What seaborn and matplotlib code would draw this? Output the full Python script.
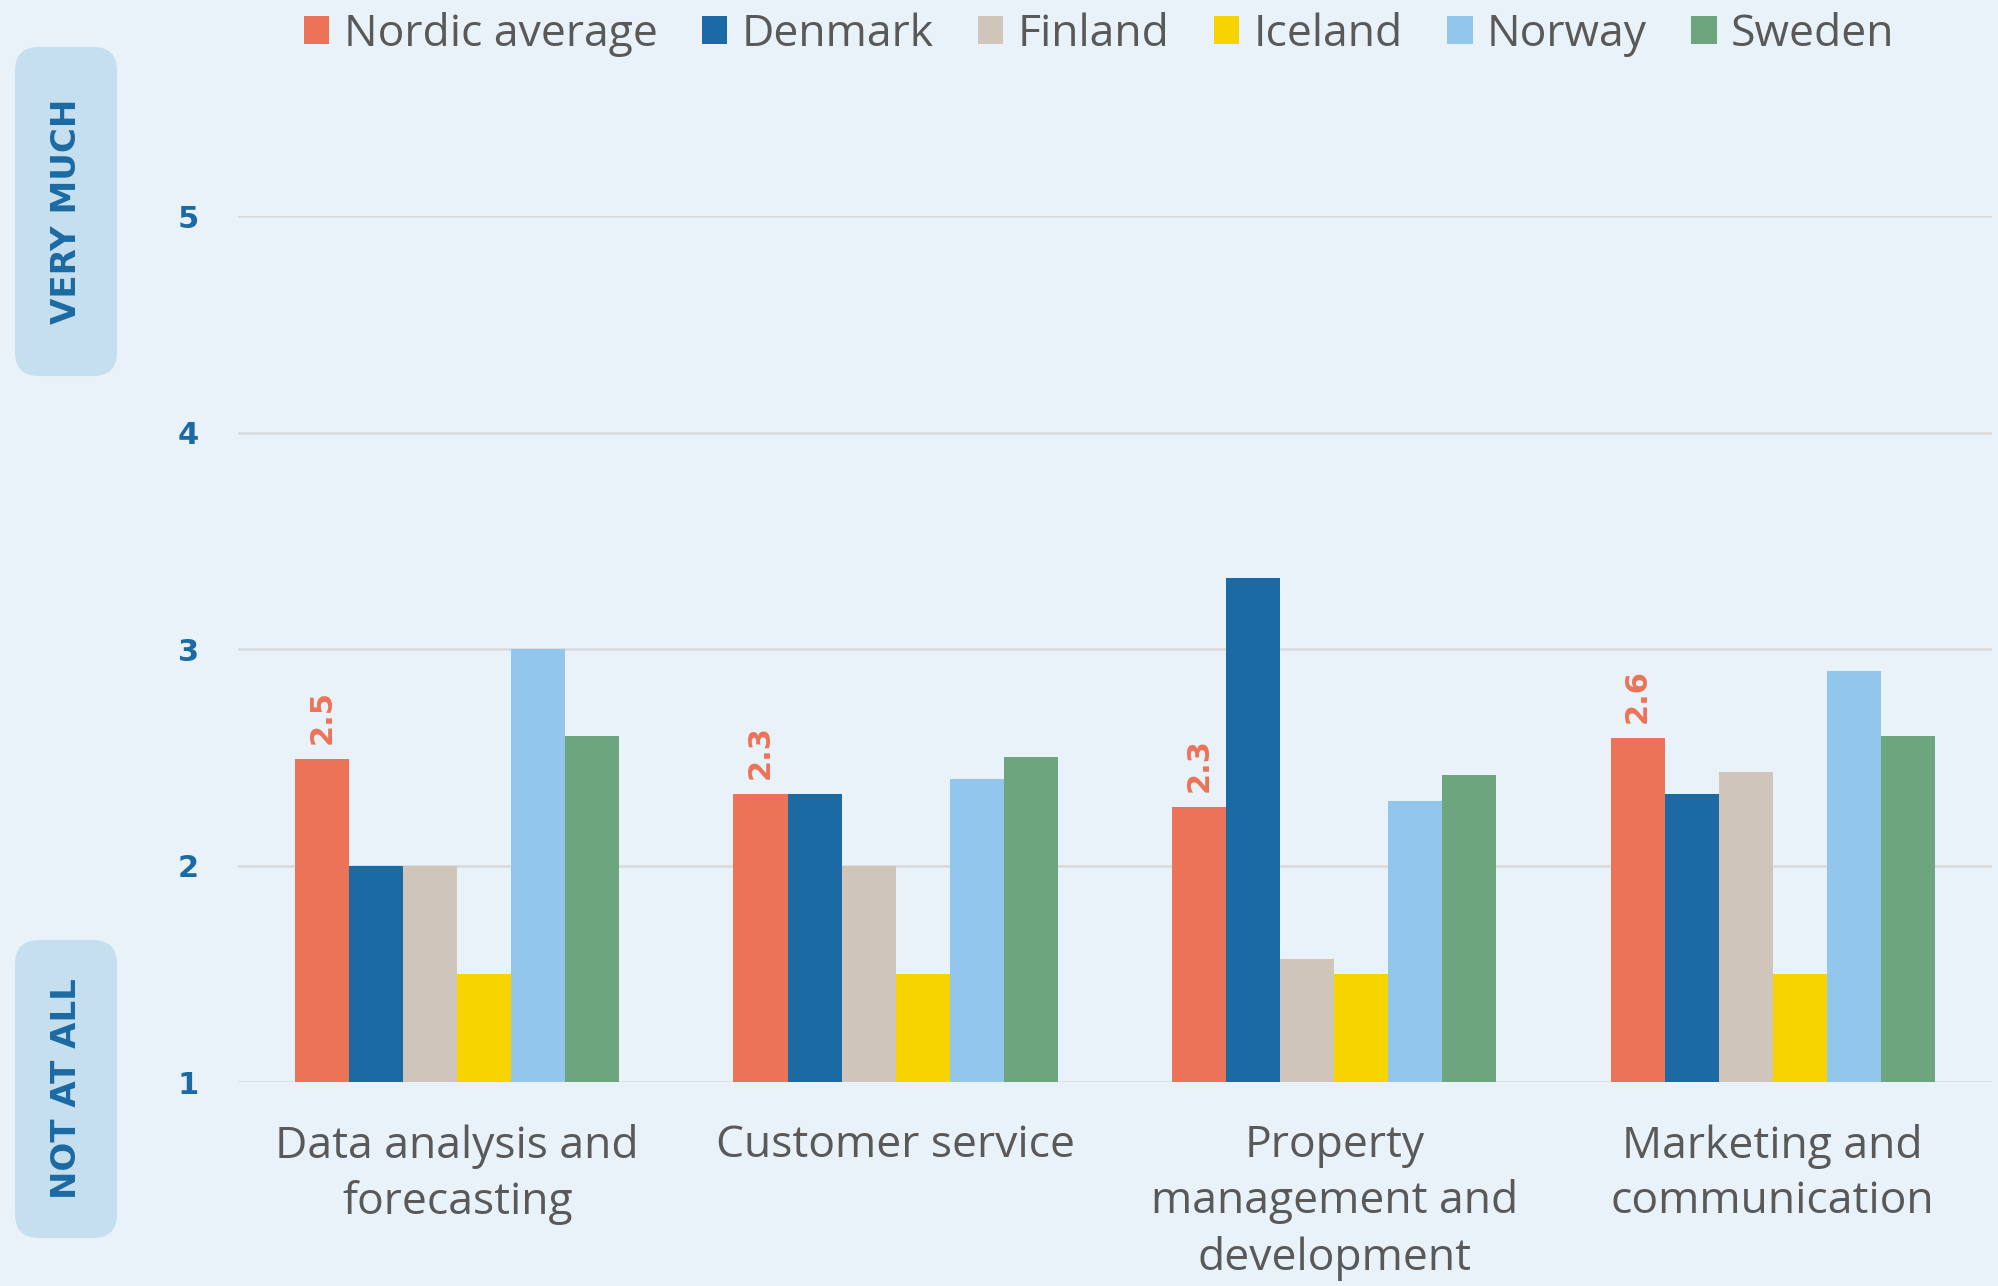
import numpy as np
import pandas as pd
import matplotlib
matplotlib.use("Agg")
import matplotlib.pyplot as plt
from matplotlib.patches import FancyBboxPatch
import seaborn as sns

categories = ["Data analysis and\nforecasting", "Customer service",
              "Property\nmanagement and\ndevelopment", "Marketing and\ncommunication"]
series = ["Nordic average", "Denmark", "Finland", "Iceland", "Norway", "Sweden"]
nordic_avg = [2.49, 2.33, 2.27, 2.59]
denmark = [2.0, 2.33, 3.33, 2.33]
finland = [2.0, 2.0, 1.57, 2.43]
iceland = [1.5, 1.5, 1.5, 1.5]
norway = [3.0, 2.4, 2.3, 2.9]
sweden = [2.6, 2.5, 2.42, 2.6]
yticks = [1, 2, 3, 4, 5]

colors = ["#EC7358", "#1B6AA3", "#CFC5BB", "#F7D300", "#92C6EC", "#6DA67E"]
BG = "#EAF2F9"
BLUE = "#1B6AA3"
GREY = "#595959"

vals = [nordic_avg, denmark, finland, iceland, norway, sweden]
rows = []
for s, v in zip(series, vals):
    for c, x in zip(categories, v):
        rows.append({"category": c, "series": s, "value": x})
df = pd.DataFrame(rows)

sns.set_theme(style="white")
plt.rcParams["font.family"] = ["Open Sans", "DejaVu Sans"]

fig = plt.figure(figsize=(19.98, 12.86), dpi=100, facecolor=BG)
ax = fig.add_axes([0.1191, 0.1586, 0.8779, 0.6734])
ax.set_facecolor(BG)

sns.barplot(data=df, x="category", y="value", hue="series", hue_order=series,
            order=categories, palette=colors, width=0.74, ax=ax,
            saturation=1, legend=True, linewidth=0, edgecolor="none")

# Bars start from 1 (the scale's floor)
for patch in ax.patches:
    h = patch.get_height()
    if h > 0:
        patch.set_y(1)
        patch.set_height(h - 1)

ax.set_ylim(1, 5)
ax.set_xlim(-0.5, 3.5)
ax.set_yticks(yticks)
ax.set_yticklabels([str(t) for t in yticks], color=BLUE, fontweight="bold",
                   fontsize=22, family=["DejaVu Sans"])
ax.tick_params(axis="y", length=0, pad=28)
ax.tick_params(axis="x", length=0, pad=30, labelsize=32, labelcolor=GREY)
for lbl in ax.get_xticklabels():
    lbl.set_linespacing(1.33)
    lbl.set_verticalalignment("top")
ax.yaxis.grid(True, color="#D9D9D9", linewidth=1.8)
ax.set_axisbelow(True)
for sp in ax.spines.values():
    sp.set_visible(False)
ax.set_xlabel("")
ax.set_ylabel("")

# value labels above Nordic average bars
nordic_container = ax.containers[0]
for rect, v in zip(nordic_container, nordic_avg):
    x = rect.get_x() + rect.get_width() / 2
    ax.annotate(f"{v:.1f}", (x, rect.get_y() + rect.get_height()),
                xytext=(0, 11), textcoords="offset points",
                rotation=90, ha="center", va="bottom", color=colors[0],
                fontsize=22, fontweight="bold", family=["DejaVu Sans"])

leg = ax.legend(loc="center", bbox_to_anchor=(0.491, 1.21), ncol=6,
                frameon=False, fontsize=32, handlelength=0.57, handleheight=0.57,
                handletextpad=0.32, columnspacing=1.0, borderaxespad=0)
for t in leg.get_texts():
    t.set_color(GREY)

# side boxes
for (y0, y1, txt) in [(0.7076, 0.9635, "VERY MUCH"), (0.0373, 0.269, "NOT AT ALL")]:
    box = FancyBboxPatch((0.0075, y0), 0.0511, y1 - y0,
                         boxstyle="round,pad=0,rounding_size=0.012",
                         transform=fig.transFigure, facecolor="#C6DFEE",
                         edgecolor="none", mutation_aspect=1998 / 1286)
    fig.patches.append(box)
    fig.text(0.0075 + 0.0511 / 2, (y0 + y1) / 2, txt, rotation=90,
             ha="center", va="center", color=BLUE, fontsize=24.5,
             fontweight="bold", family=["DejaVu Sans"])

fig.savefig("out.png", dpi=100, facecolor=BG)
